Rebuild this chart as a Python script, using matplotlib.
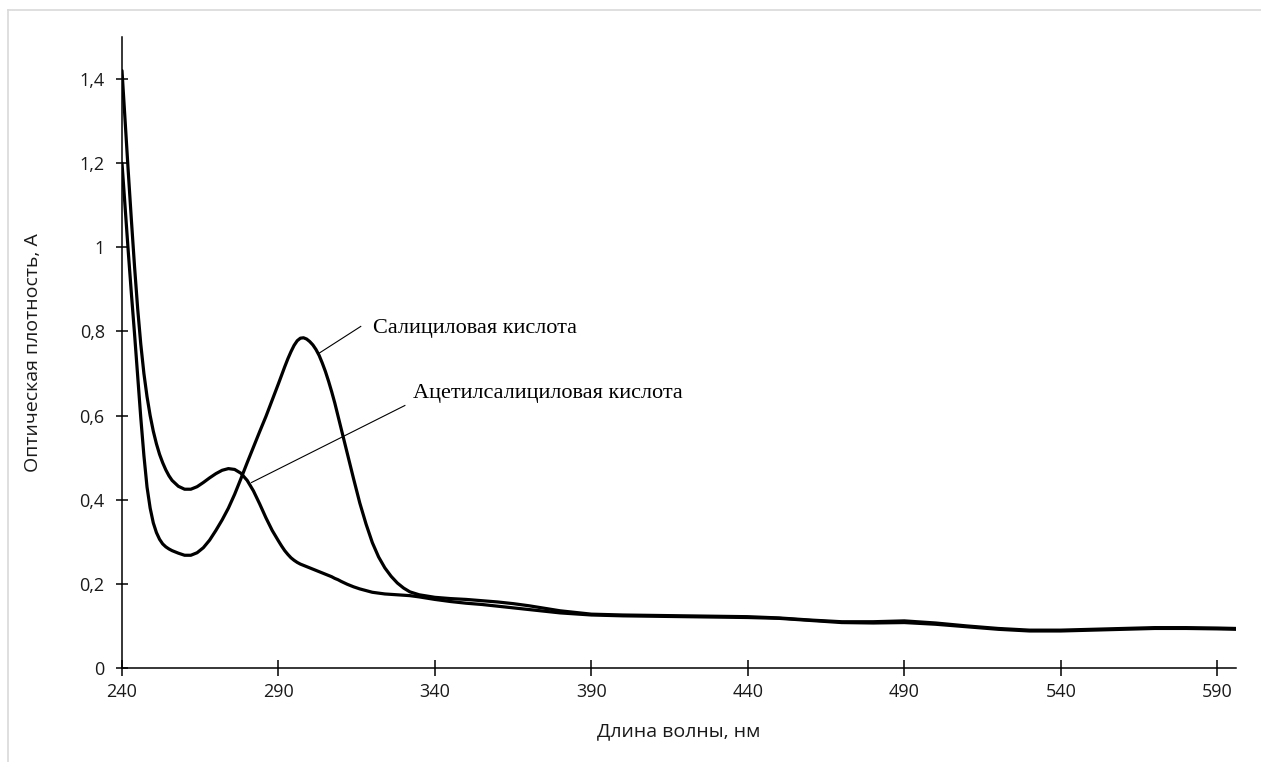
import matplotlib
matplotlib.use("Agg")
import matplotlib.pyplot as plt
from matplotlib.lines import Line2D

# spectra, nm / absorbance
wavelength = [240, 241, 242, 243, 244, 245, 246, 247, 248, 249, 250, 251, 252, 253, 254, 255, 256,
              258, 260, 262, 264, 266, 268, 270, 272, 274, 276, 278, 280, 282, 284, 286, 288,
              290, 291, 292, 293, 294, 295, 296, 297, 298, 299, 300, 301, 302, 303, 304, 305,
              306, 307, 308, 309, 310,
              312, 314, 316, 318, 320, 322, 324, 326, 328, 330, 332,
              335, 340, 345, 350, 355, 360, 365, 370,
              380, 390, 400, 410, 420, 430, 440, 450, 460, 470, 480, 490, 500, 510, 520,
              530, 540, 550, 560, 570, 580, 590, 596]

salicylic = [1.20, 1.095, 0.99, 0.89, 0.795, 0.695, 0.595, 0.505, 0.43, 0.38, 0.345, 0.322,
             0.306, 0.295, 0.288, 0.283, 0.279,
             0.273, 0.268, 0.268, 0.274, 0.286, 0.304, 0.327, 0.352, 0.38, 0.413, 0.45, 0.488,
             0.525, 0.562, 0.598, 0.637,
             0.676, 0.696, 0.716, 0.735, 0.752, 0.767, 0.778, 0.784, 0.785, 0.782, 0.776, 0.768,
             0.757, 0.743, 0.725, 0.705, 0.682, 0.657, 0.63, 0.60, 0.57,
             0.51, 0.45, 0.392, 0.342, 0.298, 0.264, 0.238, 0.218, 0.202, 0.19, 0.181,
             0.174, 0.168, 0.165, 0.163, 0.16, 0.157, 0.153, 0.148,
             0.136, 0.128, 0.126, 0.125, 0.124, 0.123, 0.122, 0.119, 0.114, 0.11, 0.11, 0.112,
             0.107, 0.1, 0.094, 0.09, 0.09, 0.092, 0.094, 0.096, 0.096, 0.095, 0.094]

acetylsalicylic = [1.42, 1.30, 1.18, 1.065, 0.955, 0.855, 0.77, 0.70, 0.645, 0.60, 0.563, 0.533,
                   0.508, 0.488, 0.471, 0.457, 0.446,
                   0.432, 0.425, 0.425, 0.431, 0.441, 0.452, 0.462, 0.47, 0.474, 0.472, 0.463,
                   0.446, 0.421, 0.39, 0.357, 0.327,
                   0.302, 0.29, 0.279, 0.27, 0.262, 0.256, 0.251, 0.247, 0.244, 0.241, 0.238,
                   0.235, 0.232, 0.229, 0.226, 0.223, 0.22, 0.217, 0.213, 0.21, 0.206,
                   0.199, 0.193, 0.188, 0.184, 0.18, 0.178, 0.176, 0.175, 0.174, 0.173, 0.172,
                   0.169, 0.163, 0.158, 0.154, 0.151, 0.147, 0.143, 0.139,
                   0.131, 0.126, 0.124, 0.123, 0.122, 0.121, 0.12, 0.118, 0.113, 0.108, 0.107,
                   0.108, 0.104, 0.098, 0.092, 0.088, 0.088, 0.09, 0.092, 0.094, 0.094, 0.093,
                   0.092]

x_ticks = [240, 290, 340, 390, 440, 490, 540, 590]
y_ticks = [0, 0.2, 0.4, 0.6, 0.8, 1.0, 1.2, 1.4]
y_tick_labels = ["0", "0,2", "0,4", "0,6", "0,8", "1", "1,2", "1,4"]

label_salicylic = "Салициловая кислота"
label_acetyl = "Ацетилсалициловая кислота"

W, H = 1261, 762
fig = plt.figure(figsize=(W / 100, H / 100), dpi=100)
fig.patch.set_facecolor("white")

# light frame round the chart area
fig.add_artist(Line2D([8 / W, 1], [1 - 10 / H, 1 - 10 / H], color="#d9d9d9", lw=1.2))
fig.add_artist(Line2D([8 / W, 8 / W], [0, 1 - 10 / H], color="#d9d9d9", lw=1.2))

ax = fig.add_axes([122 / W, 94 / H, (1236 - 122) / W, (725 - 94) / H])
ax.plot(wavelength, salicylic, color="black", lw=2.3, solid_joinstyle="round",
        solid_capstyle="round")
ax.plot(wavelength, acetylsalicylic, color="black", lw=2.3, solid_joinstyle="round",
        solid_capstyle="round")

ax.set_xlim(240, 596)
ax.set_ylim(0, 1.5)
for s in ("top", "right"):
    ax.spines[s].set_visible(False)
for s in ("left", "bottom"):
    ax.spines[s].set_linewidth(1.1)
    ax.spines[s].set_color("black")

tick_font = {"family": "Open Sans", "size": 13, "color": "#1a1a1a"}
title_font = {"family": "Open Sans", "size": 14, "color": "#1a1a1a"}
ax.set_xticks(x_ticks)
ax.set_xticklabels([str(v) for v in x_ticks], fontdict=tick_font)
ax.set_yticks(y_ticks)
ax.set_yticklabels(y_tick_labels, fontdict=tick_font)
ax.tick_params(axis="y", direction="inout", length=9, width=1.1, pad=8)
ax.tick_params(axis="x", direction="inout", length=11.5, width=1.1, pad=5)

ax.set_xlabel("Длина волны, нм", fontdict=title_font, labelpad=15)
ax.set_ylabel("Оптическая плотность, А", fontdict=title_font, labelpad=27)

# leader lines with curve names
serif = {"family": "Liberation Serif", "size": 16, "color": "black"}
ax.plot([302.7, 316.3], [0.747, 0.812], color="black", lw=0.8)
ax.text(320.2, 0.807, label_salicylic, ha="left", va="center", fontdict=serif)
ax.plot([281.4, 330.4], [0.441, 0.624], color="black", lw=0.8)
ax.text(332.9, 0.653, label_acetyl, ha="left", va="center", fontdict=serif)

fig.savefig("out.png", dpi=100)
